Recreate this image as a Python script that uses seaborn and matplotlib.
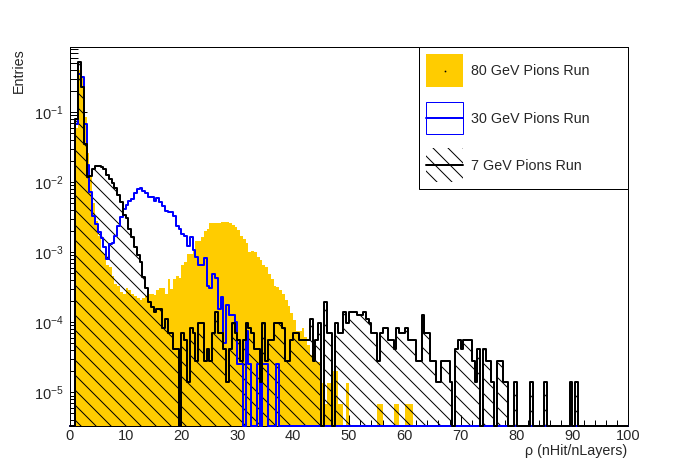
import numpy as np
import pandas as pd
import matplotlib
matplotlib.use("Agg")
import matplotlib.pyplot as plt
import seaborn as sns
from matplotlib.patches import Rectangle
from matplotlib.lines import Line2D
from matplotlib import ticker

# ---------------- data ----------------
bin_width = 0.5
rho_range = (0.0, 100.0)
first_rho = 1.0          # lower edge of the first listed bin of every series

# 80 GeV pions: entries per 0.5-wide bin starting at rho = 1.0
pi80_counts = [
    8800, 59000, 48500, 12500, 3800, 1840, 740, 410, 250, 147,
    139, 95, 90, 68, 52, 49, 40, 37, 46, 42,
    37, 35, 33, 31, 33, 35, 37, 37, 36, 42,
    45, 45, 37, 61, 44, 61, 68, 63, 98, 106,
    139, 139, 159, 211, 211, 240, 300, 316, 381, 381,
    381, 381, 403, 403, 403, 381, 360, 334, 307, 254,
    227, 198, 147, 155, 150, 125, 112, 95, 90, 72,
    61, 49, 47, 43, 37, 31, 25, 20, 16, 11,
    11, 12, 9, 7, 5, 4, 4, 4, 2, 1,
    2, 2, 3, 3, 1, 1, 0, 2,
]
pi80_tail_rho = [55.25, 55.75, 58.25, 58.75, 60.25, 60.75, 61.25]
pi80_tail_counts = [1, 1, 1, 1, 1, 1, 1]
pi80_entry_weight = 6.8e-6

# 30 GeV pions
pi30_counts = [
    2680, 13800, 12440, 2680, 685, 283, 131, 100, 76, 62,
    46, 32, 52, 54, 67, 94, 124, 164, 183, 215,
    228, 278, 316, 323, 299, 278, 240, 240, 215, 235,
    204, 177, 152, 147, 147, 131, 94, 85, 72, 68,
    49, 65, 42, 34, 26, 26, 33, 13, 12, 19,
    17, 6, 9, 2, 7, 5, 5, 4, 1, 1,
    0, 3, 1, 0, 0, 1, 0, 1, 1, 0,
    0, 0, 1,
]
pi30_entry_weight = 2.54e-5

# 7 GeV pions
pi7_counts = [
    5760, 37400, 16400, 2540, 850, 880, 1100, 1215, 1215, 1165,
    1090, 920, 805, 690, 600, 475, 375, 245, 223, 155,
    118, 86, 65, 52, 32, 22, 14, 12, 10, 11,
    11, 6, 8, 5, 5, 3, 3, 0, 5, 4,
    1, 6, 5, 2, 7, 7, 2, 3, 2, 5,
    10, 5, 5, 3, 1, 3, 7, 5, 4, 2,
    4, 7, 6, 5, 3, 3, 1, 7, 2, 4,
    4, 7, 7, 7, 6, 2, 2, 4, 5, 5,
    4, 4, 4, 4, 8, 2, 4, 7, 0, 14,
    5, 5, 0, 7, 5, 5, 10, 7, 10, 10,
    10, 9, 9, 10, 8, 7, 5, 5, 2, 5,
    6, 6, 4, 4, 3, 6, 5, 5, 6, 4,
    4, 4, 2, 2, 9, 5, 5, 2, 2, 1,
    1, 2, 2, 2, 1, 0, 3, 4, 3, 4,
    4, 4, 2, 1, 3, 0, 3, 2, 2, 1,
    0, 2, 2, 1, 1, 0, 0, 1,
]
pi7_tail_rho = [82.75, 85.25, 89.75, 90.75]
pi7_tail_counts = [1, 1, 1, 1]
pi7_entry_weight = 1.39e-5

legend_labels = ["80 GeV Pions Run", "30 GeV Pions Run", "7 GeV Pions Run"]
x_label = "\u03c1 (nHit/nLayers)"
y_label = "Entries"
y_limits = (3.34e-6, 0.84)
x_limits = rho_range

# ---------------- styling ----------------
W, H = 698, 473
HATCH = "\\"
TARGET_HATCH_PX = 15.0    # horizontal spacing of the reference hatch lines


def hatch_spacing(dpi):
    """Measure matplotlib's hatch line spacing (pixels) at a given dpi."""
    f = plt.figure(figsize=(2.0, 2.0), dpi=dpi)
    f.patches.append(Rectangle((0, 0), 1, 1, transform=f.transFigure, facecolor="white",
                               edgecolor="black", linewidth=0, hatch=HATCH))
    f.canvas.draw()
    img = np.asarray(f.canvas.buffer_rgba())[:, :, 0].astype(int)
    plt.close(f)
    sp = []
    for r in range(img.shape[0] // 4, 3 * img.shape[0] // 4, 7):
        dark = img[r] < 160
        starts = np.flatnonzero(np.diff(dark.astype(int)) == 1)
        if len(starts) > 2:
            sp.append(np.median(np.diff(starts)))
    return float(np.median(sp)) if sp else np.inf


cands = [40, 45, 50, 55, 60, 66, 72, 80, 90, 100, 110]
DPI = min(cands, key=lambda d: abs(hatch_spacing(d) - TARGET_HATCH_PX))
P = 72.0 / DPI            # points per pixel
YELLOW = "#ffcc00"
BLUE = "#0000ff"

sns.set_style("white")
plt.rcParams["font.family"] = ["Liberation Sans", "DejaVu Sans"]
plt.rcParams["mathtext.fontset"] = "custom"
plt.rcParams["mathtext.rm"] = "Liberation Sans"
plt.rcParams["mathtext.it"] = "Liberation Sans:italic"
plt.rcParams["hatch.linewidth"] = 1.0 * P
plt.rcParams["axes.unicode_minus"] = False

n_bins = int(round((rho_range[1] - rho_range[0]) / bin_width))
centers = rho_range[0] + bin_width * (np.arange(n_bins) + 0.5)


def to_hist(counts, weight, tail_rho=(), tail_counts=()):
    h = np.zeros(n_bins)
    i0 = int(round((first_rho - rho_range[0]) / bin_width))
    h[i0:i0 + len(counts)] = np.asarray(counts, float)
    for r, c in zip(tail_rho, tail_counts):
        h[int((r - rho_range[0]) // bin_width)] += c
    return h * weight


h80 = to_hist(pi80_counts, pi80_entry_weight, pi80_tail_rho, pi80_tail_counts)
h30 = to_hist(pi30_counts, pi30_entry_weight)
h7 = to_hist(pi7_counts, pi7_entry_weight, pi7_tail_rho, pi7_tail_counts)

fig = plt.figure(figsize=(W / DPI, H / DPI), dpi=DPI)
fig.patch.set_facecolor("white")
ax = fig.add_axes([0.1, 0.1, 0.8, 0.8])


def draw(values, **kw):
    df = pd.DataFrame({"rho": centers, "w": values})
    sns.histplot(data=df, x="rho", weights="w", bins=n_bins, binrange=rho_range,
                 element="step", ax=ax, **kw)


ymin = y_limits[0]
# 80 GeV: filled
draw(h80, fill=True, color=YELLOW, facecolor=YELLOW, edgecolor="none", linewidth=0,
     alpha=1, zorder=1)
# 7 GeV: hatched area
draw(h7, fill=True, color="black", facecolor="none", edgecolor="black", linewidth=0,
     hatch=HATCH, alpha=1, zorder=1.2)
# outlines (empty bins drawn at the frame bottom, like ROOT)
draw(np.maximum(h30, ymin), fill=False, color=BLUE, linewidth=2 * P,
     clip_on=False, zorder=3)
draw(np.maximum(h7, ymin), fill=False, color="black", linewidth=2 * P,
     clip_on=False, zorder=3.1)

ax.set_yscale("log")
ax.set_xlim(*x_limits)
ax.set_ylim(*y_limits)
ax.set_xlabel("")
ax.set_ylabel("")
ax.set_facecolor("white")

ax.xaxis.set_major_locator(ticker.MultipleLocator(10))
ax.xaxis.set_minor_locator(ticker.MultipleLocator(2))
ax.yaxis.set_major_locator(ticker.LogLocator(base=10, numticks=20))
ax.yaxis.set_minor_locator(ticker.LogLocator(base=10, subs=np.arange(2, 10), numticks=20))
ax.yaxis.set_minor_formatter(ticker.NullFormatter())
ax.yaxis.set_major_formatter(ticker.LogFormatterSciNotation())

tick_px = 14.6
title_px = 14.2
ax.tick_params(axis="x", which="major", direction="in", length=11.3 * P, width=1 * P,
               pad=3 * P, labelsize=tick_px * P, top=False, bottom=True, color="black")
ax.tick_params(axis="x", which="minor", direction="in", length=5.7 * P, width=1 * P,
               top=False, bottom=True, color="black")
ax.tick_params(axis="y", which="major", direction="in", length=16.8 * P, width=1 * P,
               pad=6 * P, labelsize=tick_px * P, left=True, right=False, color="black")
ax.tick_params(axis="y", which="minor", direction="in", length=8.4 * P, width=1 * P,
               left=True, right=False, color="black")
for s in ax.spines.values():
    s.set_color("black")
    s.set_linewidth(1 * P)
    s.set_visible(True)

fig.text(627 / W, 1 - 451 / H, x_label, ha="right", va="center", fontsize=title_px * P)
fig.text(19 / W, 1 - 48 / H, y_label, rotation=90, ha="center", va="top",
         fontsize=title_px * P)

# ---------------- legend (ROOT TLegend look) ----------------
def fx(x):
    return x / W


def fy(y):
    return 1 - y / H


tf = fig.transFigure
fig.add_artist(Rectangle((0.6, 0.6), 0.3, 0.3, transform=tf, facecolor="white",
                         edgecolor="black", linewidth=1 * P, zorder=5))
box_x0, box_x1 = 426, 463
rows = [(54, 87), (101.7, 134.3), (148, 181.7)]
text_y = [71, 119, 166.5]

# 80 GeV symbol
y0, y1 = rows[0]
fig.add_artist(Rectangle((fx(box_x0), fy(y1)), fx(box_x1) - fx(box_x0), fy(y0) - fy(y1),
                         transform=tf, facecolor=YELLOW, edgecolor="none", zorder=6))
fig.add_artist(Line2D([fx(444.5)], [fy(70.5)], marker="s", markersize=1 * P,
                      color="black", transform=tf, zorder=7))
# 30 GeV symbol
y0, y1 = rows[1]
fig.add_artist(Rectangle((fx(box_x0), fy(y1)), fx(box_x1) - fx(box_x0), fy(y0) - fy(y1),
                         transform=tf, facecolor="none", edgecolor=BLUE,
                         linewidth=1 * P, zorder=6))
fig.add_artist(Line2D([fx(box_x0), fx(box_x1)], [fy((y0 + y1) / 2)] * 2, color=BLUE,
                      linewidth=2 * P, transform=tf, zorder=7))
# 7 GeV symbol
y0, y1 = rows[2]
fig.add_artist(Rectangle((fx(box_x0), fy(y1)), fx(box_x1) - fx(box_x0), fy(y0) - fy(y1),
                         transform=tf, facecolor="none", edgecolor="black",
                         linewidth=0, hatch=HATCH, zorder=6))
fig.add_artist(Line2D([fx(box_x0), fx(box_x1)], [fy((y0 + y1) / 2)] * 2, color="black",
                      linewidth=2 * P, transform=tf, zorder=7))

for lab, ty in zip(legend_labels, text_y):
    fig.text(fx(471), fy(ty), lab, ha="left", va="center", fontsize=title_px * P, zorder=8)

fig.savefig("out.png", dpi=DPI, facecolor="white")
